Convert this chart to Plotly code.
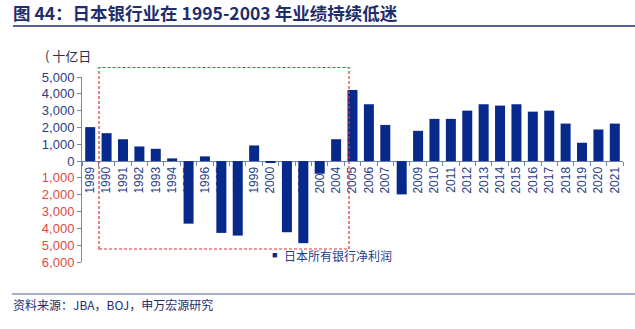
import plotly.graph_objects as go

# Net profit of all Japanese banks, billion yen, fiscal years 1989-2021
years = [str(y) for y in range(1989, 2022)]
net_profit = [2020, 1660, 1300, 870, 730, 160, -3720, 280, -4270, -4430,
              930, -100, -4230, -4880, -750, 1300, 4230, 3380, 2150, -1980,
              1800, 2510, 2510, 3000, 3380, 3300, 3380, 2940, 3000, 2230,
              1090, 1880, 2230]

y_ticks = list(range(-6000, 6000, 1000))

W, H = 635, 329
ML, MR, MT, MB = 82, 12, 77, 67
PW, PH = W - ML - MR, H - MT - MB

NAVY = "#1f2d6b"
BAR = "#07298c"
RED = "#dd4a42"
AXIS = "#7086b0"
LATIN = "Liberation Sans, Arial, Noto Sans CJK SC"
CJK = "Noto Sans CJK SC, Liberation Sans"


def px_x(p):
    return (p - ML) / PW


def px_y(p):
    return (H - MB - p) / PH


def tick_label(v):
    color = RED if v < 0 else "#2a3c86"
    return f'<span style="color:{color}">{abs(v):,}</span>'


fig = go.Figure(
    go.Bar(
        x=years,
        y=net_profit,
        marker=dict(color=BAR, line=dict(width=0)),
        name="日本所有银行净利润",
        showlegend=False,
    )
)

y_min, y_max = -6000, 5000
zero_pos = (0 - y_min) / (y_max - y_min)

fig.update_layout(
    width=W,
    height=H,
    autosize=False,
    margin=dict(l=ML, r=MR, t=MT, b=MB),
    paper_bgcolor="white",
    plot_bgcolor="white",
    bargap=0.39,
    title=dict(
        text="<b>图 44：日本银行业在 1995-2003 年业绩持续低迷</b>",
        font=dict(family=CJK, size=17.5, color=NAVY),
        xref="container", yref="container",
        x=13 / W, y=1 - 14 / H,
        xanchor="left", yanchor="middle",
    ),
    xaxis=dict(
        type="category",
        anchor="free",
        position=zero_pos,
        showline=True,
        linecolor=AXIS,
        linewidth=1,
        ticks="outside",
        tickson="boundaries",
        ticklen=4,
        tickcolor=AXIS,
        tickangle=-90,
        tickfont=dict(family=LATIN, size=12, color="#2a3c86"),
        showgrid=False,
        zeroline=False,
        layer="below traces",
    ),
    yaxis=dict(
        range=[y_min, y_max],
        tickvals=y_ticks,
        ticktext=[tick_label(v) for v in y_ticks],
        showline=True,
        linecolor=AXIS,
        linewidth=1,
        ticks="outside",
        ticklen=4,
        tickcolor=AXIS,
        tickfont=dict(family=LATIN, size=13),
        showgrid=False,
        zeroline=False,
        layer="below traces",
    ),
    shapes=[
        # rule under the title
        dict(type="line", xref="paper", yref="paper",
             x0=px_x(13), x1=px_x(W), y0=px_y(26), y1=px_y(26),
             line=dict(color=NAVY, width=1.5)),
        # rule above the source note
        dict(type="line", xref="paper", yref="paper",
             x0=px_x(12), x1=px_x(W), y0=px_y(294), y1=px_y(294),
             line=dict(color="#4a6394", width=1)),
        # dashed frame around the weak years
        dict(type="rect", xref="paper", yref="paper",
             x0=px_x(99), x1=px_x(349), y0=px_y(249), y1=px_y(67.5),
             line=dict(color="#d8343c", width=1.2, dash="3px,2px"),
             fillcolor="rgba(0,0,0,0)", layer="above"),
    ],
    annotations=[
        dict(text="( 十亿日", xref="paper", yref="paper",
             x=px_x(43), y=px_y(55), xanchor="left", yanchor="middle",
             showarrow=False, font=dict(family=CJK, size=13, color="#2b2f4f")),
        dict(text="■", xref="paper", yref="paper",
             x=px_x(270), y=px_y(255), xanchor="left", yanchor="middle",
             showarrow=False, font=dict(family=LATIN, size=9, color=BAR)),
        dict(text="日本所有银行净利润", xref="paper", yref="paper",
             x=px_x(282), y=px_y(255), xanchor="left", yanchor="middle",
             showarrow=False, font=dict(family=CJK, size=12, color="#1f3a8a")),
        dict(text="资料来源：JBA，BOJ，申万宏源研究", xref="paper", yref="paper",
             x=px_x(11), y=px_y(304), xanchor="left", yanchor="middle",
             showarrow=False, font=dict(family=CJK, size=12, color=NAVY)),
    ],
)

fig.write_html("out.html")
